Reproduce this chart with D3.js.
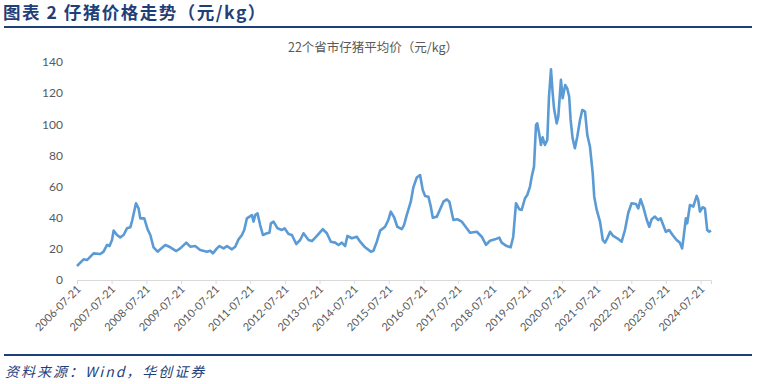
<!DOCTYPE html>
<html>
<head>
<meta charset="utf-8">
<script src="https://cdn.jsdelivr.net/npm/d3@7/dist/d3.min.js"></script>
<style>
  body { margin: 0; background: #fff; }
  svg { display: block; }
</style>
</head>
<body>
<div class="chart"></div>
<script>
var svgWidth = 759;
var svgHeight = 384;

var dates = [
  "2006-07-21","2006-09-28","2006-11-03","2007-01-12","2007-03-24","2007-04-27","2007-06-03","2007-06-29",
  "2007-07-25","2007-08-11","2007-09-16","2007-10-20","2007-11-24","2007-12-30","2008-02-03","2008-02-24",
  "2008-04-03","2008-04-30","2008-05-18","2008-06-29","2008-08-03","2008-09-01","2008-10-05","2008-11-17",
  "2008-12-15","2009-02-06","2009-03-31","2009-06-02","2009-07-14","2009-09-15","2009-10-27","2009-12-18",
  "2010-02-09","2010-04-21","2010-05-26","2010-06-23","2010-08-04","2010-08-31","2010-10-13","2010-11-18",
  "2011-01-09","2011-02-13","2011-03-20","2011-04-25","2011-05-19","2011-06-16","2011-08-08","2011-08-25",
  "2011-09-12","2011-10-06","2011-11-03","2011-12-02","2012-01-13","2012-02-09","2012-02-24","2012-03-23",
  "2012-05-04","2012-06-19","2012-07-17","2012-08-28","2012-10-03","2012-11-17","2012-12-29","2013-02-02",
  "2013-03-27","2013-05-02","2013-06-23","2013-08-25","2013-10-06","2013-11-17","2014-01-02","2014-02-06",
  "2014-03-13","2014-04-17","2014-05-11","2014-06-26","2014-08-18","2014-09-22","2014-11-13","2015-01-13",
  "2015-02-09","2015-03-17","2015-04-21","2015-06-12","2015-07-16","2015-08-11","2015-09-15","2015-10-19",
  "2015-12-05","2015-12-29","2016-01-26","2016-03-09","2016-04-05","2016-05-11","2016-06-15","2016-07-13",
  "2016-08-07","2016-09-11","2016-10-06","2016-10-27","2016-12-09","2017-01-12","2017-02-16","2017-03-24",
  "2017-04-20","2017-06-01","2017-07-13","2017-08-28","2017-10-02","2017-11-24","2018-02-03","2018-03-27",
  "2018-05-11","2018-06-22","2018-08-14","2018-09-28","2018-10-23","2018-12-15","2019-01-26","2019-02-22",
  "2019-03-23","2019-04-27","2019-05-22","2019-06-26","2019-07-20","2019-08-18","2019-09-05","2019-09-29",
  "2019-10-20","2019-11-02","2019-11-23","2019-12-11","2019-12-29","2020-01-22","2020-02-16","2020-03-05",
  "2020-03-26","2020-04-13","2020-04-27","2020-05-25","2020-06-11","2020-07-09","2020-07-27","2020-08-23",
  "2020-09-13","2020-10-04","2020-10-19","2020-11-09","2020-12-03","2020-12-28","2021-01-26","2021-02-19",
  "2021-03-20","2021-04-13","2021-05-11","2021-06-09","2021-06-25","2021-07-21","2021-08-25","2021-09-23",
  "2021-10-17","2021-11-10","2021-12-09","2022-01-11","2022-02-23","2022-04-10","2022-05-15","2022-06-19",
  "2022-07-24","2022-09-08","2022-10-02","2022-10-27","2022-11-23","2022-12-29","2023-01-26","2023-02-20",
  "2023-03-27","2023-05-01","2023-05-26","2023-06-22","2023-07-20","2023-08-24","2023-09-29","2023-11-10",
  "2023-12-14","2024-01-08","2024-01-26","2024-02-16","2024-03-01","2024-03-30","2024-05-04","2024-06-09",
  "2024-06-25","2024-07-13","2024-08-11","2024-09-04","2024-09-28","2024-10-19","2024-11-07"
];

var prices = [
  9.0,13.3,12.8,17.1,16.7,18.2,22.5,21.8,
  25.7,31.7,28.9,27.4,28.9,33.2,33.8,38.5,
  49.3,46.0,39.6,39.6,32.6,28.9,21.0,18.2,
  19.7,22.5,21.0,18.6,20.3,24.0,21.4,21.8,
  19.3,18.2,18.8,17.1,20.3,21.8,20.3,21.8,
  19.7,21.4,26.1,28.9,32.1,39.6,41.7,37.5,
  41.7,42.8,35.3,28.9,30.0,30.4,36.4,37.5,
  33.2,32.1,33.2,29.5,28.9,23.1,25.7,30.0,
  25.7,25.0,28.3,32.6,30.0,24.6,24.0,22.5,
  24.0,21.8,28.3,26.8,27.8,24.6,21.0,18.2,
  18.8,24.6,31.7,34.2,38.5,43.9,40.3,34.2,
  32.6,35.3,41.7,50.3,59.5,65.8,67.4,57.8,
  54.0,53.5,47.1,40.0,40.7,45.4,50.3,51.8,
  50.3,38.5,39.0,37.5,34.7,30.4,31.0,27.8,
  22.5,25.2,26.1,27.2,24.0,21.8,21.0,27.8,
  49.3,45.4,45.0,52.5,54.6,60.0,66.4,72.8,
  99.5,100.6,93.8,86.7,91.6,86.7,89.9,117.7,
  135.3,119.9,110.3,100.6,104.9,128.5,116.7,125.2,
  123.1,117.7,102.8,91.0,84.6,92.0,102.8,109.2,
  108.1,93.1,85.6,68.5,53.5,45.0,37.5,25.7,
  24.0,26.8,31.0,28.3,26.8,24.6,32.1,43.2,
  49.3,48.8,46.0,51.8,47.1,39.0,34.2,39.0,
  40.7,38.5,39.6,35.3,31.0,32.1,28.9,25.7,
  24.0,20.3,28.9,39.6,36.4,48.2,47.1,54.0,
  51.4,43.9,46.7,46.0,32.1,31.0,31.7
];

var tickLabels = ["2006-07-21","2007-07-21","2008-07-21","2009-07-21","2010-07-21","2011-07-21",
  "2012-07-21","2013-07-21","2014-07-21","2015-07-21","2016-07-21","2017-07-21","2018-07-21",
  "2019-07-21","2020-07-21","2021-07-21","2022-07-21","2023-07-21","2024-07-21"];

var yTicks = [0, 20, 40, 60, 80, 100, 120, 140];

var parseDate = d3.timeParse("%Y-%m-%d");
var series = dates.map(function(d, i) {
  return { date: parseDate(d), value: prices[i] };
});

var svg = d3.select(".chart")
  .append("svg")
  .attr("width", svgWidth)
  .attr("height", svgHeight);

var navy = "#1f3f7a";

// page header
svg.append("text")
  .attr("x", 3)
  .attr("y", 19)
  .style("font-family", "'Noto Sans CJK SC', sans-serif")
  .style("font-size", "17.5px")
  .style("letter-spacing", "1.5px")
  .style("font-weight", "bold")
  .style("fill", navy)
  .text("图表 2  仔猪价格走势（元/kg）");

svg.append("line")
  .attr("x1", 4).attr("x2", 752)
  .attr("y1", 27).attr("y2", 27)
  .style("stroke", navy)
  .style("stroke-width", 2);

// chart title
svg.append("text")
  .attr("x", 373)
  .attr("y", 52)
  .attr("text-anchor", "middle")
  .style("font-family", "'Noto Sans CJK SC', sans-serif")
  .style("font-size", "12.5px")
  .style("fill", "#595959")
  .text("22个省市仔猪平均价（元/kg）");

// scales
var xScale = d3.scaleTime()
  .domain([parseDate("2006-07-21"), parseDate("2024-11-07")])
  .range([77, 711]);

var yScale = d3.scaleLinear()
  .domain([0, 140])
  .range([280, 62]);

// y axis (labels only)
var leftAxis = d3.axisLeft(yScale)
  .tickValues(yTicks)
  .tickSize(0)
  .tickPadding(0);

var yG = svg.append("g")
  .attr("transform", "translate(63,0)")
  .call(leftAxis);
yG.select(".domain").remove();
yG.selectAll("text")
  .style("font-family", "Lato, 'Open Sans', sans-serif")
  .style("font-size", "12px")
  .style("fill", "#595959");

// x axis
var bottomAxis = d3.axisBottom(xScale)
  .tickValues(tickLabels.map(parseDate))
  .tickFormat(d3.timeFormat("%Y-%m-%d"))
  .tickSizeOuter(0)
  .tickSize(4);

var xG = svg.append("g")
  .attr("transform", "translate(0,280)")
  .call(bottomAxis);
xG.select(".domain").style("stroke", "#d9d9d9");
xG.selectAll(".tick line").style("stroke", "#d9d9d9");
xG.selectAll("text")
  .attr("text-anchor", "end")
  .attr("dy", null)
  .attr("y", 0)
  .attr("transform", "translate(4,10) rotate(-45)")
  .style("font-family", "Lato, 'Open Sans', sans-serif")
  .style("font-size", "11px")
  .style("fill", "#595959");

// price line
var line = d3.line()
  .x(d => xScale(d.date))
  .y(d => yScale(d.value));

svg.append("path")
  .datum(series)
  .attr("d", line)
  .style("fill", "none")
  .style("stroke", "#5b9bd5")
  .style("stroke-width", 2.6)
  .style("stroke-linejoin", "round");

// footer
svg.append("line")
  .attr("x1", 4).attr("x2", 752)
  .attr("y1", 355).attr("y2", 355)
  .style("stroke", navy)
  .style("stroke-width", 2);

svg.append("text")
  .attr("x", 5)
  .attr("y", 377)
  .style("font-family", "'Noto Sans CJK SC', sans-serif")
  .style("font-size", "14px")
  .style("letter-spacing", "2px")
  .style("font-style", "italic")
  .style("fill", navy)
  .text("资料来源：Wind，华创证券");
</script>
</body>
</html>
